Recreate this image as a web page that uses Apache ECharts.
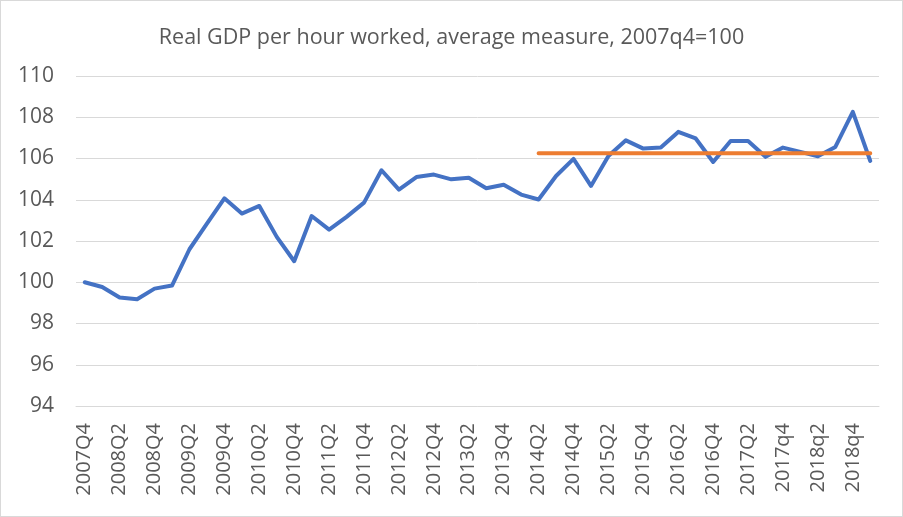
<!DOCTYPE html>
<html>
<head>
<meta charset="utf-8">
<script src="https://cdn.jsdelivr.net/npm/echarts@6/dist/echarts.min.js"></script>
<style>
html,body{margin:0;padding:0;background:#fff;}
#c{width:901px;height:515px;border:1px solid #d9d9d9;}
</style>
</head>
<body>
<div id="c"></div>
<script>
const categories = [
 "2007Q4",
 "2008Q1","2008Q2","2008Q3","2008Q4",
 "2009Q1","2009Q2","2009Q3","2009Q4",
 "2010Q1","2010Q2","2010Q3","2010Q4",
 "2011Q1","2011Q2","2011Q3","2011Q4",
 "2012Q1","2012Q2","2012Q3","2012Q4",
 "2013Q1","2013Q2","2013Q3","2013Q4",
 "2014Q1","2014Q2","2014Q3","2014Q4",
 "2015Q1","2015Q2","2015Q3","2015Q4",
 "2016Q1","2016Q2","2016Q3","2016Q4",
 "2017Q1","2017Q2","2017q3","2017q4",
 "2018q1","2018q2","2018q3","2018q4",
 "2019q1"
];
const gdpPerHour = [
 100.0,
 99.77, 99.26, 99.18, 99.69,
 99.84, 101.6, 102.84, 104.07,
 103.33, 103.70, 102.2, 101.02,
 103.21, 102.55, 103.17, 103.86,
 105.43, 104.49, 105.1, 105.22,
 104.99, 105.07, 104.56, 104.73,
 104.25, 104.01, 105.15, 105.98,
 104.67, 106.12, 106.88, 106.48,
 106.53, 107.29, 106.97, 105.83,
 106.85, 106.85, 106.08, 106.53,
 106.32, 106.11, 106.56, 108.26,
 105.88
];
const averageStart = "2014Q2";
const averageValue = 106.25;
const yTicks = {min: 94, max: 110, interval: 2};

const startIdx = categories.indexOf(averageStart);
const averageLine = categories.map((c, i) => i >= startIdx ? averageValue : null);

const chart = echarts.init(document.getElementById('c'));
chart.setOption({
  animation: false,
  title: {
    text: 'Real GDP per hour worked, average measure, 2007q4=100',
    left: 'center',
    top: 21,
    textStyle: {fontFamily: 'Open Sans', fontSize: 21.5, fontWeight: 'normal', color: '#595959'}
  },
  grid: {left: 75, right: 23, top: 75, bottom: 110, containLabel: false},
  xAxis: {
    type: 'category',
    data: categories,
    boundaryGap: true,
    axisLine: {show: true, lineStyle: {color: '#d9d9d9', width: 1}},
    axisTick: {show: false},
    axisLabel: {
      interval: 1, rotate: 90, margin: 17,
      fontFamily: 'Open Sans', fontSize: 20, color: '#595959'
    }
  },
  yAxis: {
    type: 'value',
    min: yTicks.min, max: yTicks.max, interval: yTicks.interval,
    axisLine: {show: false},
    axisTick: {show: false},
    splitLine: {lineStyle: {color: '#d9d9d9', width: 1}},
    axisLabel: {fontFamily: 'Open Sans', fontSize: 21, color: '#595959', margin: 22}
  },
  series: [
    {
      type: 'line', data: gdpPerHour, showSymbol: false,
      lineStyle: {color: '#4472C4', width: 4, cap: 'round', join: 'round'},
      itemStyle: {color: '#4472C4'}, z: 2
    },
    {
      type: 'line', data: averageLine, showSymbol: false, connectNulls: false,
      lineStyle: {color: '#ED7D31', width: 4, cap: 'round'},
      itemStyle: {color: '#ED7D31'}, z: 3
    }
  ]
});
</script>
</body>
</html>
